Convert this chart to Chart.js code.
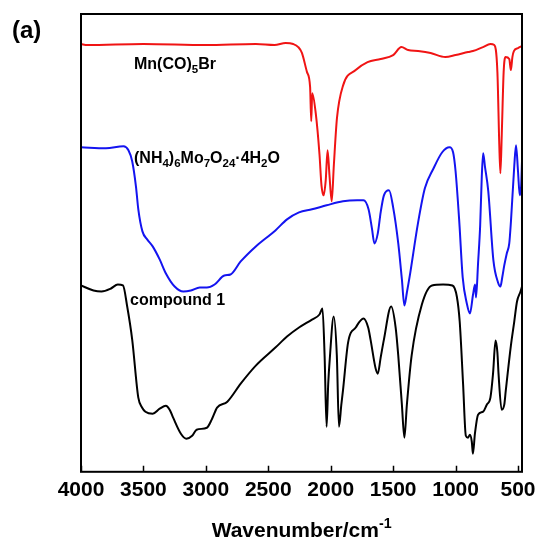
<!DOCTYPE html>
<html>
<head>
<meta charset="utf-8">
<script src="https://cdn.jsdelivr.net/npm/chart.js@4.4.1/dist/chart.umd.min.js"></script>
<style>
  body { margin: 0; background: #fff; }
  #wrap { width: 536px; height: 542px; }
</style>
</head>
<body>
<div id="wrap"><canvas id="ir"></canvas></div>
<script>
// IR spectra, offset transmittance (a.u.)
const mnWn = [4000, 3950, 3500, 3000, 2600, 2450, 2361, 2300, 2260, 2230, 2190, 2165, 2156, 2148, 2120, 2090, 2074, 2057, 2040, 2025, 2010, 1992, 1975, 1950, 1900, 1800, 1705, 1600, 1500, 1434, 1380, 1300, 1200, 1082, 1000, 900, 861, 780, 721, 690, 665, 650, 641, 630, 615, 600, 570, 557, 545, 533, 500, 468];
const mnT = [427, 426, 427, 426, 427, 426, 428, 427, 424, 418, 399, 384, 350, 378, 358, 317, 286, 276, 291, 321, 296, 270, 306, 353, 386, 401, 409, 412, 416, 424, 421, 420, 418, 414, 416, 419, 420, 424, 427, 426, 399, 327, 298, 337, 399, 414, 412, 401, 414, 420, 423, 425];

const amWn = [4000, 3800, 3660, 3620, 3590, 3560, 3541, 3508, 3470, 3426, 3370, 3320, 3250, 3180, 3120, 3049, 2992, 2930, 2852, 2803, 2721, 2600, 2443, 2350, 2254, 2150, 2033, 1902, 1788, 1738, 1697, 1670, 1650, 1623, 1600, 1574, 1533, 1500, 1459, 1430, 1410, 1390, 1369, 1300, 1246, 1180, 1107, 1049, 1020, 1000, 970, 943, 910, 885, 860, 844, 836, 820, 803, 790, 779, 765, 738, 697, 660, 641, 625, 610, 590, 570, 557, 530, 516, 500, 486, 475, 468];
const amT = [324, 323, 325, 321, 310, 285, 262, 240, 232, 225, 212, 198, 185, 180, 181, 184, 184, 187, 196, 197, 210, 225, 241, 252, 259, 262, 266, 270, 271, 271, 262, 243, 228, 238, 259, 276, 281, 264, 228, 192, 166, 179, 194, 249, 283, 302, 319, 324, 319, 300, 249, 194, 168, 158, 177, 187, 174, 208, 246, 295, 318, 305, 280, 211, 189, 185, 195, 206, 218, 228, 249, 305, 326, 300, 276, 285, 310];

const c1Wn = [4000, 3900, 3836, 3760, 3705, 3664, 3630, 3590, 3541, 3510, 3484, 3426, 3370, 3320, 3290, 3262, 3200, 3156, 3110, 3074, 2992, 2950, 2910, 2828, 2721, 2600, 2443, 2350, 2254, 2150, 2090, 2066, 2049, 2033, 2020, 2008, 1976, 1951, 1934, 1915, 1902, 1861, 1800, 1738, 1700, 1681, 1640, 1623, 1600, 1574, 1516, 1480, 1459, 1430, 1410, 1390, 1352, 1270, 1189, 1100, 1025, 990, 967, 940, 918, 900, 885, 870, 861, 845, 820, 779, 750, 721, 700, 680, 665, 656, 631, 610, 598, 557, 530, 508, 480, 468];
const c1T = [186, 181, 180, 183, 187, 186, 165, 132, 74, 64, 60, 58, 63, 66, 62, 54, 38, 33, 36, 42, 44, 53, 64, 70, 88, 106, 124, 135, 144, 152, 157, 163, 116, 45, 88, 112, 155, 116, 45, 67, 81, 129, 144, 153, 144, 132, 103, 98, 114, 132, 165, 144, 116, 67, 34, 67, 116, 167, 186, 187, 186, 175, 150, 88, 36, 34, 37, 30, 18, 38, 57, 60, 67, 74, 98, 131, 119, 98, 62, 67, 81, 126, 150, 170, 180, 185];

const xTicks = [4000, 3500, 3000, 2500, 2000, 1500, 1000, 500];
const xMin = 468, xMax = 4000;
const yMin = 0, yMax = 457;

function pts(wn, t) {
  return wn.map((w, i) => ({ x: w, y: t[i] }));
}

const frame = {
  id: "frame",
  afterDraw(chart) {
    const { ctx, chartArea: { left, right, top, bottom }, scales: { x } } = chart;
    ctx.save();
    ctx.strokeStyle = "#000";
    ctx.lineWidth = 2;
    ctx.strokeRect(left, top, right - left, bottom - top);
    ctx.lineWidth = 1.5;
    ctx.beginPath();
    xTicks.forEach((v) => {
      const px = Math.round(x.getPixelForValue(v)) + 0.5;
      ctx.moveTo(px, bottom);
      ctx.lineTo(px, bottom - 6);
    });
    ctx.stroke();

    // rich text helper for sub/superscripts
    const rich = (parts, x0, y0, size) => {
      let cx = x0;
      parts.forEach(([txt, kind]) => {
        let fs = size, dy = 0;
        if (kind === "sub") { fs = size * 0.72; dy = size * 0.28; }
        if (kind === "sup") { fs = size * 0.68; dy = -size * 0.42; }
        ctx.font = "bold " + fs + "px 'Liberation Sans', Arial, sans-serif";
        ctx.fillText(txt, cx, y0 + dy);
        cx += ctx.measureText(txt).width;
      });
      return cx - x0;
    };

    ctx.fillStyle = "#000";
    ctx.textBaseline = "alphabetic";
    ctx.textAlign = "left";
    rich([["Mn(CO)", "n"], ["5", "sub"], ["Br", "n"]], 134, 69, 16);
    rich([["(NH", "n"], ["4", "sub"], [")", "n"], ["6", "sub"], ["Mo", "n"], ["7", "sub"], ["O", "n"], ["24", "sub"], ["·4H", "n"], ["2", "sub"], ["O", "n"]], 134, 163, 16);
    rich([["compound 1", "n"]], 130, 305, 16);

    rich([["(a)", "n"]], 12, 38, 24);

    // axis title
    ctx.font = "bold 21px 'Liberation Sans', Arial, sans-serif";
    const w1 = ctx.measureText("Wavenumber/cm").width;
    ctx.font = "bold 14px 'Liberation Sans', Arial, sans-serif";
    const w2 = ctx.measureText("-1").width;
    const cx = (left + right) / 2 - (w1 + w2) / 2;
    rich([["Wavenumber/cm", "n"], ["-1", "sup"]], cx, 537, 21);
    ctx.restore();
  },
};

const irChart = new Chart(document.getElementById("ir"), {
  type: "line",
  data: {
    datasets: [
      { label: "Mn(CO)5Br", data: pts(mnWn, mnT), borderColor: "#f01414" },
      { label: "(NH4)6Mo7O24·4H2O", data: pts(amWn, amT), borderColor: "#1414f0" },
      { label: "compound 1", data: pts(c1Wn, c1T), borderColor: "#000000" },
    ],
  },
  options: {
    responsive: true,
    maintainAspectRatio: false,
    animation: false,
    layout: { padding: { left: 81, right: 14, top: 14, bottom: 33 } },
    elements: {
      point: { radius: 0 },
      line: { borderWidth: 2, cubicInterpolationMode: "monotone", fill: false },
    },
    scales: {
      x: {
        type: "linear",
        reverse: true,
        min: xMin,
        max: xMax,
        border: { display: false },
        grid: { display: false, drawTicks: false },
        afterBuildTicks: (axis) => {
          axis.ticks = xTicks.map((v) => ({ value: v }));
        },
        afterFit: (axis) => {
          axis.paddingLeft = 0;
          axis.paddingRight = 0;
        },
        ticks: {
          autoSkip: false,
          maxRotation: 0,
          padding: 6,
          color: "#000",
          callback: (v) => String(v),
          font: { family: "'Liberation Sans', Arial, sans-serif", size: 21, weight: "bold" },
        },
      },
      y: { display: false, min: yMin, max: yMax },
    },
    plugins: {
      legend: { display: false },
      tooltip: { enabled: false },
    },
  },
  plugins: [frame],
});
</script>
</body>
</html>
